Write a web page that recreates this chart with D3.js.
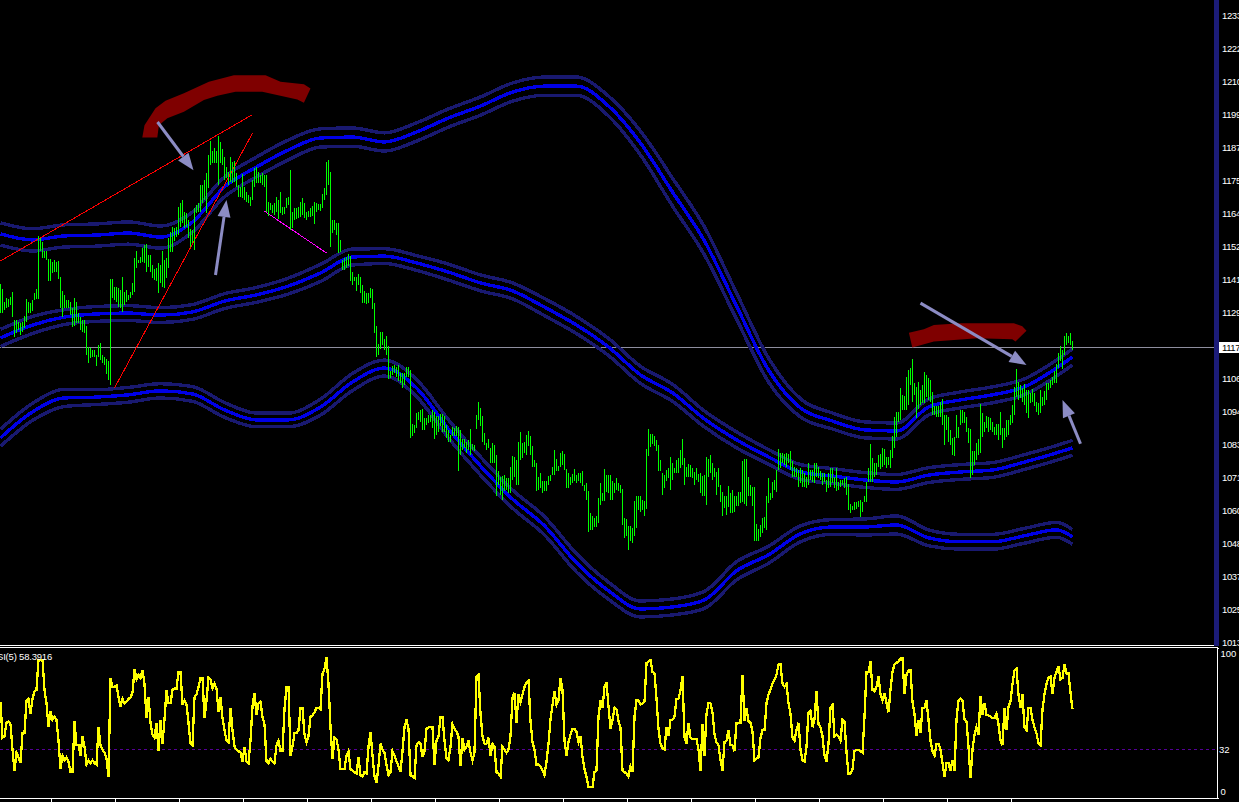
<!DOCTYPE html>
<html>
<head>
<meta charset="utf-8">
<script src="https://cdn.jsdelivr.net/npm/d3@7"></script>
<style>
  html, body { margin: 0; padding: 0; background: #000; overflow: hidden; }
  svg { display: block; }
  text { font-family: "Liberation Sans", sans-serif; fill: #fff; }
  .crisp { shape-rendering: crispEdges; }
</style>
</head>
<body>
<svg id="chart" width="1239" height="802"></svg>
<script>
// price bars, one entry per bar
const barHigh = [
1138.7,1136.9,1132.5,1133.7,1133.4,1134.3,1135.8,1126.1,1126.1,1125.5,1124.9,1125.5,1127.5,1133.4,1132.5,1132,1133.1,1135.7,1136.9,1155.6,
1154.8,1153.6,1150.4,1150.4,1147.4,1147.4,1146.6,1147.2,1146.6,1146.9,1141.3,1136.4,1134.9,1133.1,1133.1,1132.5,1130.2,1133.7,1132.5,1128.4,
1127.3,1126.1,1126.1,1123.8,1116.7,1116.4,1115.6,1115.6,1113.8,1117.3,1118.1,1113.8,1113,1112.3,1111.5,1140.4,1140.4,1137.8,1137.6,1137.2,
1136.6,1141,1136,1136.6,1134.9,1136,1139,1147.7,1150.4,1147.2,1148.3,1151.3,1152.4,1152.8,1148.9,1148.9,1145.4,1143.9,1144.2,1146,
1145.4,1150.4,1147.2,1147.7,1154.8,1157.1,1158.6,1158.3,1158.6,1165.6,1167,1168.2,1164.1,1163.5,1161.2,1157.9,1157.7,1165.3,1166.5,1167,
1173.5,1173.5,1175.2,1177.6,1184,1189,1185.5,1186.4,1185.5,1190.7,1188.7,1186,1183.4,1179.9,1178.2,1183.4,1181.7,1182,1177.6,1173.5,
1172.9,1177.3,1172.9,1171.1,1170,1169.2,1175.2,1179.3,1179.9,1178.2,1177,1177.6,1177,1177,1167.6,1167,1166.5,1167,1169.4,1168.2,
1171.1,1165.6,1165.9,1168.8,1169.2,1178.8,1164.1,1165.3,1165.3,1165.6,1167.6,1168.8,1167,1164.1,1164.5,1165.3,1166.1,1167.6,1167,1166.7,
1166.8,1170.3,1172.3,1181.7,1182.3,1178.2,1161.2,1161.2,1160.3,1160,
1154.2,1147,1147.8,1148.1,1149.3,1148.6,1143.1,1141.3,1141.1,1142.3,1141.3,1138.4,1136.1,1135.5,1135.5,1137.2,1136.9,1132,1124,1117.7,
1122,1121.7,1119.3,1120.5,1117,1108,1110,1110.3,1109.7,1110.3,1107.4,1107.6,1107.6,1109.7,1109.5,1108.6,1089.6,1089.3,1093.4,1093.6,
1094.5,1094.8,1091.6,1091.6,1092.8,1092.8,1094.5,1093.6,1092.4,1092.2,1093.1,1093.1,1092.2,1089.3,1087.5,1085.8,1088.4,1088.1,1088.7,1088.4,
1087.5,1084.2,1084.2,1083.4,1084,1087.7,1082.6,1082.2,1092.8,1097.2,1095.1,1092.4,1086.3,1082.8,1084.2,1081.1,1082.8,1082.2,1078.7,1072.9,
1071.1,1071.4,1071.7,1070.5,1070.5,1074.6,1078.4,1077.9,1077,1083.1,1086.6,1082.8,1083.4,1085.8,1087.2,1085.2,1081.9,1077,1076,1071.1,
1072.5,1069.4,1069.4,1069.4,1071.4,1071.7,1074.4,1080.3,1077.2,1074.9,1079.3,1079.9,1079.1,1073.7,1072.3,1070.9,1072.1,1073.7,1071.7,1072.5,
1072.3,1072.9,1068.2,1068.8,1065.9,1058.3,1057.3,1056.5,1057.1,1063.5,1068.8,1065.3,1073.7,1071.7,1071.7,1071.7,1069.4,1068.8,1070.5,1068.8,
1068.2,1066.7,1056.5,1056.2,1053.8,1053.6,1053,1062.4,1064.3,1064.1,1064.1,1062.9,1062.4,1080.7,1087.7,1086.1,1086.1,1085.2,1084,1082.2,
1077,1072.3,1071.7,1073.5,1074.1,
1078.1,1075.8,1074,1076.9,1077.5,1080.5,1084.2,1077.5,1074.6,1075.5,1075,1074,1072.8,1074,1072,1072.3,1071.3,1071.7,1077.9,1077.2,
1078.7,1075.8,1074,1072.8,1074,1068.2,1065.5,1064.1,1064.1,1067.8,1065.2,1066.4,1064.1,1064.1,1065.8,1065.5,1076.4,1077.2,1077.2,1071.1,
1068.2,1067.6,1067.3,1054.5,1052.6,1054.1,1056.5,1056.8,1064.1,1070.5,1065.2,1069.3,1069.9,1073.4,1080.7,1079.5,1079.5,1079,1079.3,1079,
1079.9,1076.7,1074.6,1074,1073.4,1074,1073.4,1072.3,1071.1,1075.8,1073.4,1073.4,1075.8,1075.8,1074.6,1073.2,1072.3,1072.3,1069.9,1072.5,
1074,1074,1071.1,1074,1069.3,1069.9,1069.9,1070.5,1071.1,1068.5,1061.5,1060.8,1062.3,1062.3,1062.5,1062.7,1062.3,1064.1,1069.3,1074,
1082.6,1077.5,1075.8,1075.8,1078.7,1079,1081,1080.7,1078.1,1078.1,1080.5,1085.4,1092.1,1093.9,1093.9,1102.1,1099.8,1099.4,1106,1108.5,
1109.1,1112.3,1103.9,1102.7,1104.4,1101.5,1103.3,1107.9,1106.8,1105.6,1105,1100.9,1095.9,1095.9,1095.7,1097.4,1098.2,1092.7,1092.7,1092.1,
1087.5,1084.5,1085.1,1092.7,1088.6,1094.5,1094.5,1093.9,1092.1,1088,1087.7,1079.9,1079.9,1082.8,1084.2,1096.6,1093.3,1090.4,1092.4,1091.9,
1091.6,1090.4,1088.6,1089.6,1089.6,1093.6,1088,1088,1091,1091,1092.7,1096.3,1102.4,1108.8,1104.4,1103.3,1102.1,1103.6,1101.5,1101.5,
1100.3,1101.7,1100.6,1097.4,1096.8,1101.5,1099.2,1101.3,1103.9,1104.1,1105,1106.2,1108.3,1110.6,1114.4,1117,1115.6,1120.5,1121.6,1120.5,
1121.4,1118.8
];
const barLow = [
1128.7,1128.7,1129.6,1130.2,1130.8,1131.4,1127.3,1120.2,1121.4,1122.4,1120.8,1122,1123.2,1125.2,1128.7,1128.7,1129.4,1133.1,1133.4,1133.4,
1150.4,1147.7,1147.7,1147.2,1139.9,1139.9,1142.5,1143.1,1143.1,1140.4,1130.2,1127,1130.2,1130.2,1130.2,1127.9,1123.5,1123.8,1124.9,1124.9,
1122.4,1122,1121.4,1113.8,1110.9,1112.6,1113,1113,1110,1113,1112.1,1110.9,1110.3,1107.1,1105,1103.3,1133.7,1133.1,1132.5,1130.8,
1130.2,1129,1131.4,1132.5,1133.1,1133.7,1134.9,1136,1144.2,1146,1146,1146.6,1146,1143.1,1144.8,1143.1,1140.7,1140.1,1139.6,1135.7,
1139,1137.8,1137.4,1140.7,1144.2,1150.1,1150.1,1153.9,1155.3,1155.9,1158.9,1160,1158.3,1158.9,1154.8,1151.6,1153,1150.7,1163.5,1164.1,
1164.1,1167,1168.2,1163.5,1172.3,1180.5,1181.1,1181.1,1181.1,1173.5,1181.1,1180.5,1175.2,1175.8,1173.5,1174.7,1174.1,1174.7,1172.9,1169.4,
1169.4,1168.8,1168.2,1167.6,1167,1166.1,1168.2,1172.9,1174.1,1174.1,1174.1,1173.5,1172.9,1164.1,1162.6,1164.7,1163.8,1163,1164.1,1161.4,
1163.5,1163,1163.3,1165.3,1166.5,1157.7,1158.3,1161.2,1161.4,1161.8,1162.4,1163,1161.8,1161.2,1162.4,1162.4,1162.6,1159.8,1164.1,1164.7,
1164.5,1165.3,1168.2,1170,1173.5,1151.6,1156.5,1157.7,1155.9,1149.5,
1149.8,1143.7,1143.7,1144.3,1145.1,1139.6,1138.4,1139.6,1136.1,1138.4,1135.5,1132,1132,1131.7,1132,1133.7,1129.9,1121.4,1113.2,1113.8,
1115.8,1117.3,1115.6,1113.8,1105.3,1105.6,1106.8,1107.4,1106.2,1104.5,1103.9,1102.1,1103.3,1106,1106,1084.6,1085.2,1086.3,1088.1,1091,
1090.4,1087.3,1087.5,1089.3,1089.9,1090.4,1088.1,1084.2,1085.8,1086.9,1088.9,1086.9,1086.9,1084.6,1083.1,1083.1,1085.2,1085.2,1085.2,1072.9,
1078.7,1080.3,1081.1,1079.3,1080.5,1078.7,1080.3,1079.9,1087.7,1091,1088.9,1083.4,1082.2,1080.5,1081.1,1075.8,1075.8,1075.8,1064.3,1068.2,
1064.7,1062.9,1065.9,1066.4,1065.3,1065.3,1070,1071.1,1068.2,1068.2,1077,1077.6,1079.3,1078.7,1081.7,1078.7,1074.6,1074.4,1066.2,1066.4,
1067,1065.3,1066.2,1066.2,1068.2,1069.4,1071.7,1071.7,1072.9,1072.9,1074.6,1075.2,1073.5,1067,1067,1068.2,1068.8,1069.4,1068.8,1069.4,
1069,1067.9,1065.9,1062.9,1051.5,1052.4,1052.4,1053.3,1053.3,1054.7,1061.2,1062.4,1062.4,1065.5,1065.3,1062.9,1062.9,1065.3,1066.4,1065.9,
1065.3,1054.2,1049.5,1050.1,1045.2,1048.3,1047.7,1050.1,1053,1059.4,1058.8,1059.4,1057.1,1059.7,1078.2,1081.4,1082.6,1081.9,1079.9,1072.9,
1072.9,1064.7,1067,1069.7,1070.5,
1066.4,1069.9,1072.3,1072.3,1072.3,1074,1075.2,1068.2,1071.1,1071.1,1071.1,1070.5,1068.2,1069.9,1069.3,1065.2,1064.1,1064.1,1061.1,1070.9,
1072.3,1069.9,1071.1,1064.7,1067.6,1062,1057.3,1060,1057.6,1060.3,1058.2,1058.2,1058.8,1060.6,1060.6,1061.7,1062.3,1061.5,1060.8,1064.1,
1064.1,1060.6,1048.3,1048.6,1048.3,1049.8,1051.2,1053,1052.4,1061.7,1062.9,1063.5,1066.4,1065.8,1073.4,1074,1075.8,1075.2,1074.6,1075.8,
1073.4,1071.1,1071.1,1071.1,1067.6,1068.8,1067.6,1067.3,1067.2,1068.2,1069.9,1069.3,1068.8,1071.1,1070.5,1069.9,1068.2,1069.3,1065.5,1067,
1067.6,1068.8,1067,1066.2,1066.4,1067.6,1068.2,1067,1064.7,1059.2,1058.2,1059.4,1059.2,1059.6,1060.3,1057,1058.8,1062.3,1062.3,1069.3,
1069.3,1069.3,1071.1,1071.7,1074.6,1073.7,1074.6,1075.2,1074,1075.2,1074,1077.5,1081,1085.1,1090.4,1091,1094.5,1094.5,1094.5,1096.2,
1103.3,1097.4,1099.8,1091.6,1094.7,1096.2,1096.8,1097.1,1099.2,1098,1097.4,1092.7,1092.7,1092.1,1092.1,1092.1,1089.2,1082.2,1087.5,1083.4,
1082.2,1078.7,1078.3,1084.5,1084.5,1089.2,1089.8,1089.8,1086.9,1082.8,1070.5,1071.7,1075.2,1076.9,1078.7,1079.3,1085.1,1086.9,1088.1,1086.9,
1087.5,1086.9,1085.7,1085.7,1084,1085.7,1081,1084,1085.1,1085.7,1089.2,1089.8,1092.7,1099.2,1098,1098.6,1097.4,1096.2,1093.3,1091.6,
1096.8,1097.4,1095.7,1093.9,1092.7,1093.3,1095.7,1096.2,1098,1101.5,1102.1,1103.3,1103.9,1104.1,1109.1,1111.5,1108.8,1113.8,1117.3,1117.9,
1117.3,1115.6
];

// oscillator, one value per bar
const rsiValues = [
64,40,41,50,51,49,32,18,30,27,23,43,43,65,66,56,66,71,72,92,92,92,72,63,47,58,52,54,52,38,
19,28,25,27,24,17,17,51,35,35,28,41,34,22,25,23,25,23,22,47,35,32,30,26,14,80,74,74,75,67,
61,66,63,64,66,67,70,86,79,82,80,85,76,53,67,50,42,40,50,31,52,36,52,72,63,63,72,73,73,84,
84,62,65,62,50,36,35,67,69,74,80,80,53,65,80,79,73,76,73,57,67,53,45,38,37,60,45,34,32,31,
30,24,34,24,23,38,61,70,55,63,64,54,49,24,23,26,24,23,35,38,31,31,59,74,74,28,34,43,43,45,
60,60,42,37,41,54,55,57,60,60,59,83,86,94,76,47,26,40,39,32,19,19,19,28,31,19,18,17,16,27,
15,14,17,16,34,44,28,14,10,21,36,32,30,22,15,17,31,28,24,21,17,31,47,52,46,15,
14,13,35,37,36,27,31,46,47,47,47,22,38,41,54,54,38,26,25,34,49,46,44,41,21,40,32,34,38,30,
25,30,81,82,56,41,36,36,40,28,36,34,17,16,14,34,32,30,32,41,67,70,50,69,64,69,74,77,78,51,
37,32,22,22,21,18,15,24,36,52,62,71,62,65,80,72,38,28,37,42,46,46,44,37,41,27,19,14,7,7,
7,17,18,54,65,60,74,77,61,46,52,60,59,51,47,18,17,16,14,21,17,54,65,65,62,63,64,90,91,92,
84,83,66,46,36,33,32,47,41,52,52,54,66,66,72,81,40,36,50,40,39,39,39,32,18,49,28,56,63,63,
57,42,37,35,25,18,37,38,45,35,35,31,50,50,50,82,51,60,51,50,44,25,26,27,40,45,45,63,69,72,
76,79,82,89,89,76,74,76,63,56,40,38,45,50,32,25,24,34,57,58,47,52,71,49,
47,41,28,24,36,60,62,41,42,41,38,52,51,30,16,16,19,31,32,32,31,30,54,84,84,91,72,71,74,81,
69,65,70,63,57,72,84,89,90,91,93,93,69,82,85,85,64,56,41,52,43,60,60,65,52,38,31,28,36,36,
32,23,14,23,23,18,25,18,52,65,66,65,52,51,34,13,32,42,47,42,68,55,63,55,55,54,53,53,56,49,
38,35,60,45,61,64,76,85,86,69,60,69,47,45,60,60,52,47,43,36,35,59,69,76,80,81,69,80,84,88,
79,80,89,83,83,70,59
];

// channel lines, sampled every 16 bars plus the last bar
const bandBars = [0,16,32,48,64,80,96,112,128,144,160,176,192,208,224,240,256,272,288,304,320,336,352,368,384,400,416,432,448,464,480,496,512,528,536];
const upperMid = [1156.3,1154.2,1155.6,1155.9,1156.6,1155.2,1160.5,1172.8,1179.8,1185.8,1190,1190.3,1188.6,1192.1,1197,1201.2,1206.1,1208.2,1208.2,1201.2,1188.2,1171,1153.8,1131,1108.5,1095.2,1090.6,1087.5,1087.1,1095.5,1098,1099.8,1102.6,1109.2,1113.1];
const upperSpread = [3.9,3.9,3.9,3.9,3.9,3.9,3.5,3.5,3.5,3.5,3.2,3.2,3.2,3.2,3.2,3.2,3.2,3.2,3.2,3.5,4.2,4.9,4.9,4.6,4.2,3.2,2.8,2.8,2.8,2.8,2.8,2.8,2.8,2.8,2.8];
const middleMid = [1119.8,1124.3,1127.1,1128.2,1128.5,1127.8,1128.9,1132.7,1134.9,1138,1142.6,1148.2,1148.5,1146.1,1142.9,1139.1,1136.3,1130.6,1124.3,1116.6,1106.8,1100.5,1091.3,1084,1078,1072.7,1071.3,1069.9,1069.2,1071.6,1072.7,1073.4,1076.2,1079.4,1081.2];
const middleSpread = [3,3,2.6,2.6,2.6,2.6,2.6,2.6,2.6,2.8,3,2.8,2.6,2.6,2.8,2.8,2.8,3,3,3,3,3,2.8,2.8,2.6,2.6,2.6,2.6,2.6,2.6,2.6,2.6,2.6,2.6,2.6];
const lowerMid = [1084.7,1093.8,1098.7,1099,1099.8,1101.2,1100.1,1094.5,1091,1091,1095.5,1104.3,1109.2,1102.2,1087.8,1074.8,1063.2,1053.8,1040.8,1031,1024.6,1025.3,1027.8,1038,1043.6,1051,1053.4,1053.4,1054.1,1049.6,1048.2,1048.2,1050.3,1052.4,1049.9];
const lowerSpread = [3,3,3,2.6,2.6,2.5,2.6,2.6,2.4,2.4,2.8,3,2.8,3,3.2,3.2,3.2,3.2,3.2,3,2.8,2.8,3,3.2,3,2.8,2.6,2.8,3.2,2.8,2.6,2.6,2.6,2.6,2.6];

// axis labels
const priceLabels = ["1233","1222","1210","1199","1187","1175","1164","1152","1141","1129","1117","1106","1094","1083","1071","1060","1048","1037","1025","1013"];
const rsiTicks = [100,32,0];
const timeTickBars = [25,57,89,121,153,185,217,249,281,313,345,377,409,441,473,505];
const lastPrice = 1116.4;
const lastPriceLabel = "1117";
const rsiCaption = "RSI(5) 58.3916";

// hand drawn annotations, as [bar, price]
const redStrokes = [
  [[70.9,1190.2],[72,1194.5],[77.5,1200.4],[82.5,1203.1],[91.7,1205.7],[104.2,1209.7],[116.7,1212],[132.5,1212],[140,1209.7],[151.7,1208.9],[155,1207.4],[151.7,1202.4],[148.4,1203.5],[130.9,1206.2],[117.5,1206.2],[108.4,1204.8],[101.7,1203.3],[91.7,1199.2],[83.4,1196.9],[79.2,1194.5],[78.4,1190.2]],
  [[454.2,1121.6],[461.7,1122.8],[466.7,1124.3],[480,1124.9],[506.7,1124.9],[510.9,1123.9],[513,1122.3],[507.5,1118.5],[505.9,1119.3],[488.4,1119.7],[466.7,1118.5],[455.9,1116.4]]
];
const arrows = [
  [[78.5,1195.6],[96.5,1178.7]],
  [[107.5,1141.9],[113,1168.2]],
  [[460,1132],[513,1110.3]],
  [[540,1082.6],[531,1098]]
];
const redLines = [
  [[0,1146.8],[125.5,1198]],
  [[57,1102.2],[126,1191.7]]
];
const magentaLines = [
  [[132,1164.3],[163,1149.6]]
];

const svg = d3.select("#chart");

const x = d3.scaleLinear().domain([0, 536]).range([0.5, 1072.5]);
const y = d3.scaleLinear().domain([1013, 1233]).range([642, 15.5]);
const rsiY = d3.scaleLinear().domain([0, 100]).range([797.5, 648]);
const labelY = d3.scalePoint().domain(priceLabels).range([15.5, 642]);

const toPoint = (d) => [x(d[0]), y(d[1])];

svg.append("rect").attr("width", 1239).attr("height", 802).attr("fill", "#000");

// last price line
svg.append("line").attr("class", "crisp")
  .attr("x1", 0).attr("x2", 1214)
  .attr("y1", y(lastPrice)).attr("y2", y(lastPrice))
  .attr("stroke", "#8e8e9e").attr("stroke-width", 1);

// channels
const bandLine = d3.line()
  .x((d) => x(d[0]))
  .y((d) => y(d[1]))
  .curve(d3.curveMonotoneX);

function drawBand(mid, spread) {
  const g = svg.append("g").attr("fill", "none");
  [1, -1].forEach((side) => {
    g.append("path")
      .attr("class", "crisp")
      .attr("d", bandLine(bandBars.map((b, i) => [b, mid[i] + side * spread[i]])))
      .attr("stroke", "#191970").attr("stroke-width", 3.4);
  });
  g.append("path")
    .attr("class", "crisp")
    .attr("d", bandLine(bandBars.map((b, i) => [b, mid[i]])))
    .attr("stroke", "#0000e6").attr("stroke-width", 3.4);
}
drawBand(upperMid, upperSpread);
drawBand(middleMid, middleSpread);
drawBand(lowerMid, lowerSpread);

// red and magenta trend lines
function drawSegments(segs, color) {
  svg.append("g").selectAll("line")
    .data(segs)
    .join("line")
    .attr("class", "crisp")
    .attr("x1", (d) => x(d[0][0])).attr("y1", (d) => y(d[0][1]))
    .attr("x2", (d) => x(d[1][0])).attr("y2", (d) => y(d[1][1]))
    .attr("stroke", color).attr("stroke-width", 1);
}
drawSegments(redLines, "#ff0000");
drawSegments(magentaLines, "#ff00ff");

// price bars
svg.append("g").selectAll("line")
  .data(barHigh)
  .join("line")
  .attr("class", "crisp")
  .attr("x1", (d, i) => x(i)).attr("x2", (d, i) => x(i))
  .attr("y1", (d) => y(d)).attr("y2", (d, i) => y(barLow[i]))
  .attr("stroke", "#00ff00").attr("stroke-width", 1);

// highlighter strokes
svg.append("g").selectAll("polygon")
  .data(redStrokes)
  .join("polygon")
  .attr("points", (d) => d.map(toPoint).map((p) => p.join(",")).join(" "))
  .attr("fill", "#7f0000");

// arrows
const arrowColor = "#8c8cc4";
arrows.forEach((a) => {
  const [x0, y0] = toPoint(a[0]);
  const [x1, y1] = toPoint(a[1]);
  const ang = Math.atan2(y1 - y0, x1 - x0);
  const len = 17;
  const wing = 6.5;
  const bx = x1 - len * Math.cos(ang);
  const by = y1 - len * Math.sin(ang);
  const nx = -Math.sin(ang);
  const ny = Math.cos(ang);
  const g = svg.append("g");
  g.append("line")
    .attr("x1", x0).attr("y1", y0).attr("x2", bx).attr("y2", by)
    .attr("stroke", arrowColor).attr("stroke-width", 3);
  g.append("polygon")
    .attr("points", [[x1, y1], [bx + nx * wing, by + ny * wing], [bx - nx * wing, by - ny * wing]].map((p) => p.join(",")).join(" "))
    .attr("fill", arrowColor);
});

// right hand strip
svg.append("rect").attr("class", "crisp")
  .attr("x", 1214).attr("y", 0).attr("width", 5).attr("height", 646)
  .attr("fill", "#1c1c78");

// price axis
const priceAxis = d3.axisRight(labelY)
  .tickValues(priceLabels.filter((d) => d !== lastPriceLabel))
  .tickSize(0)
  .tickPadding(3);
const priceG = svg.append("g").attr("transform", "translate(1219,0)").call(priceAxis);
priceG.select(".domain").remove();
priceG.selectAll("text")
  .attr("font-size", 9.5)
  .attr("letter-spacing", "-0.4")
  .style("font-family", "Liberation Sans")
  .attr("fill", "#fff");

// last price box
svg.append("rect").attr("class", "crisp")
  .attr("x", 1219).attr("y", y(lastPrice) - 5.5).attr("width", 20).attr("height", 11)
  .attr("fill", "#fff");
svg.append("text")
  .attr("x", 1222).attr("y", y(lastPrice)).attr("dy", "0.35em")
  .attr("font-size", 9.5)
  .attr("letter-spacing", "-0.4")
  .style("fill", "#000")
  .text(lastPriceLabel);

// oscillator panel frame
const frame = svg.append("g").attr("class", "crisp").attr("stroke", "#fff").attr("stroke-width", 1).attr("fill", "none");
frame.append("line").attr("x1", 0).attr("x2", 1214).attr("y1", 645.5).attr("y2", 645.5);
frame.append("path").attr("d", "M0,647.5H1217.5V798.5H0");

// oscillator level
svg.append("line").attr("class", "crisp")
  .attr("x1", 0).attr("x2", 1217)
  .attr("y1", Math.floor(rsiY(32)) + 0.5).attr("y2", Math.floor(rsiY(32)) + 0.5)
  .attr("stroke", "#540096").attr("stroke-width", 1)
  .attr("stroke-dasharray", "3,3");

// oscillator line
const rsiLine = d3.line().x((d, i) => x(i)).y((d) => rsiY(d));
svg.append("path").attr("class", "crisp")
  .attr("d", rsiLine(rsiValues))
  .attr("fill", "none")
  .attr("stroke", "#ffff00").attr("stroke-width", 2.3);

svg.append("text")
  .attr("x", 52).attr("y", 660)
  .attr("text-anchor", "end")
  .attr("font-size", 9.5)
  .attr("letter-spacing", "-0.2")
  .text(rsiCaption);

// oscillator labels, held inside the panel
svg.append("g").selectAll("text")
  .data(rsiTicks)
  .join("text")
  .attr("x", (d) => (d === 32 ? 1219 : 1220.5))
  .attr("y", (d) => Math.max(654, Math.min(791.5, rsiY(d))))
  .attr("dy", "0.35em")
  .attr("font-size", 9.5)
  .text((d) => d);

svg.append("g").attr("class", "crisp").selectAll("line")
  .data([100, 0])
  .join("line")
  .attr("x1", 1217).attr("x2", 1219)
  .attr("y1", (d) => Math.round(rsiY(d)) + 0.5).attr("y2", (d) => Math.round(rsiY(d)) + 0.5)
  .attr("stroke", "#fff");

// time ticks, labels fall outside the picture
const timeAxis = d3.axisBottom(x).tickValues(timeTickBars).tickSize(4).tickFormat("");
const timeG = svg.append("g").attr("class", "crisp").attr("transform", "translate(0.5,798)").call(timeAxis);
timeG.select(".domain").remove();
timeG.selectAll("line").attr("stroke", "#fff");
</script>
</body>
</html>
